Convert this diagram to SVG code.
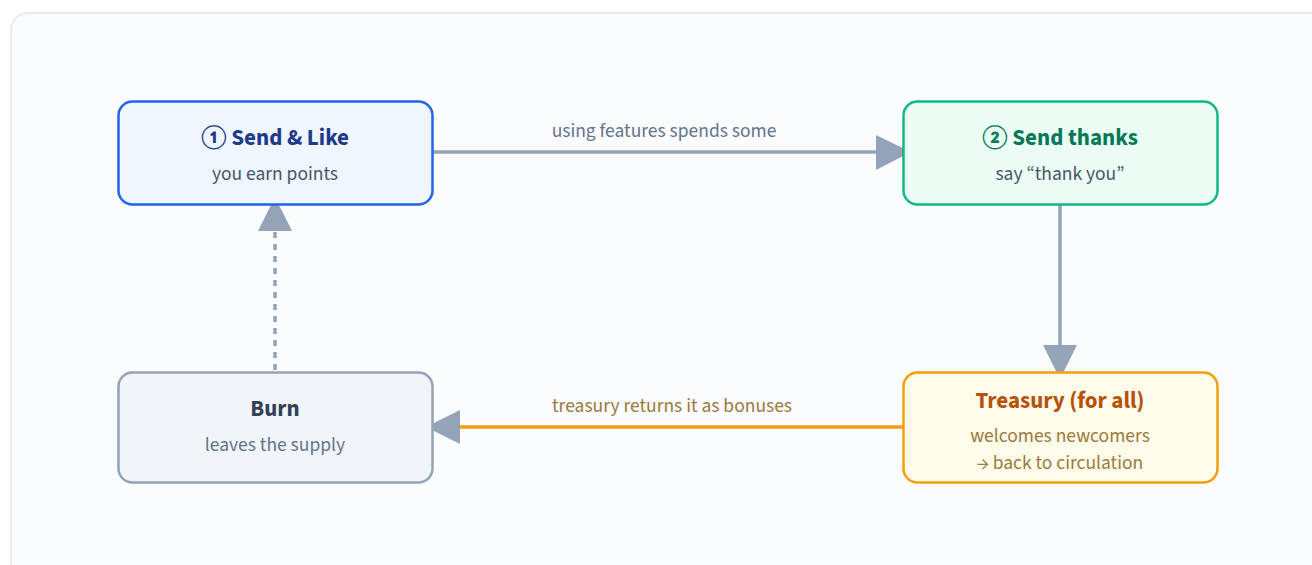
<svg xmlns="http://www.w3.org/2000/svg" width="1312" height="565" viewBox="0 0 1312 565">
<style>
.t{font-family:"Source Sans 3","Lato","Noto Sans",sans-serif;font-weight:700;font-size:23px;text-anchor:middle}
.s{font-family:"Source Sans 3","Lato","Noto Sans",sans-serif;font-size:19.5px;text-anchor:middle}
.l{font-family:"Source Sans 3","Lato","Noto Sans",sans-serif;font-size:19.5px;text-anchor:middle}
.box{stroke-width:2.5}
.e{fill:none;stroke:#94a3b8;stroke-width:3.5}
.ah{fill:#94a3b8}
</style>
<rect x="0" y="0" width="1312" height="565" fill="#ffffff"/>
<rect x="11" y="13" width="1330" height="580" rx="17" fill="#fafcfe" stroke="#e2e8f0" stroke-width="1.5"/>
<g id="connectors">
<line class="e" x1="432" y1="152" x2="880" y2="152"/>
<polygon class="ah" points="911,152 876,135 876,170"/>
<text class="l" x="664" y="137" fill="#64748b">using features spends some</text>
<line class="e" x1="1060" y1="204" x2="1060" y2="348"/>
<polygon class="ah" points="1060,379 1043,345 1077,345"/>
<line fill="none" stroke="#f59e0b" stroke-width="3.5" x1="907" y1="427" x2="458" y2="427"/>
<polygon class="ah" points="426,427 460,410 460,444"/>
<text class="l" x="672" y="412" fill="#9a7b3c">treasury returns it as bonuses</text>
<line class="e" x1="275" y1="370" x2="275" y2="231" stroke-dasharray="6 6"/>
<polygon class="ah" points="275,197 258,231 292,231"/>
</g>
<g id="node-send-like">
<rect class="box" x="118.5" y="101.5" width="314" height="103" rx="14" fill="#eff6ff" stroke="#2563eb"/>
<text class="t" x="275" y="145" fill="#1e3a8a">① Send &amp; Like</text>
<text class="s" x="275" y="180" fill="#475569">you earn points</text>
</g>
<g id="node-send-thanks">
<rect class="box" x="903.5" y="101.5" width="314" height="103" rx="14" fill="#ecfdf5" stroke="#10b981"/>
<text class="t" x="1060" y="145" fill="#047857">② Send thanks</text>
<text class="s" x="1060" y="180" fill="#475569">say “thank you”</text>
</g>
<g id="node-burn">
<rect class="box" x="118.5" y="372.5" width="314" height="110" rx="14" fill="#f1f5f9" stroke="#94a3b8"/>
<text class="t" x="275" y="416" fill="#334155">Burn</text>
<text class="s" x="275" y="451" fill="#64748b">leaves the supply</text>
</g>
<g id="node-treasury">
<rect class="box" x="903.5" y="372.5" width="314" height="110" rx="14" fill="#fffbeb" stroke="#f59e0b"/>
<text class="t" x="1060" y="408" fill="#b45309">Treasury (for all)</text>
<text class="s" x="1060" y="442" fill="#9a7b3c">welcomes newcomers</text>
<text class="s" x="1060" y="469" fill="#9a7b3c">→ back to circulation</text>
</g>
</svg>
